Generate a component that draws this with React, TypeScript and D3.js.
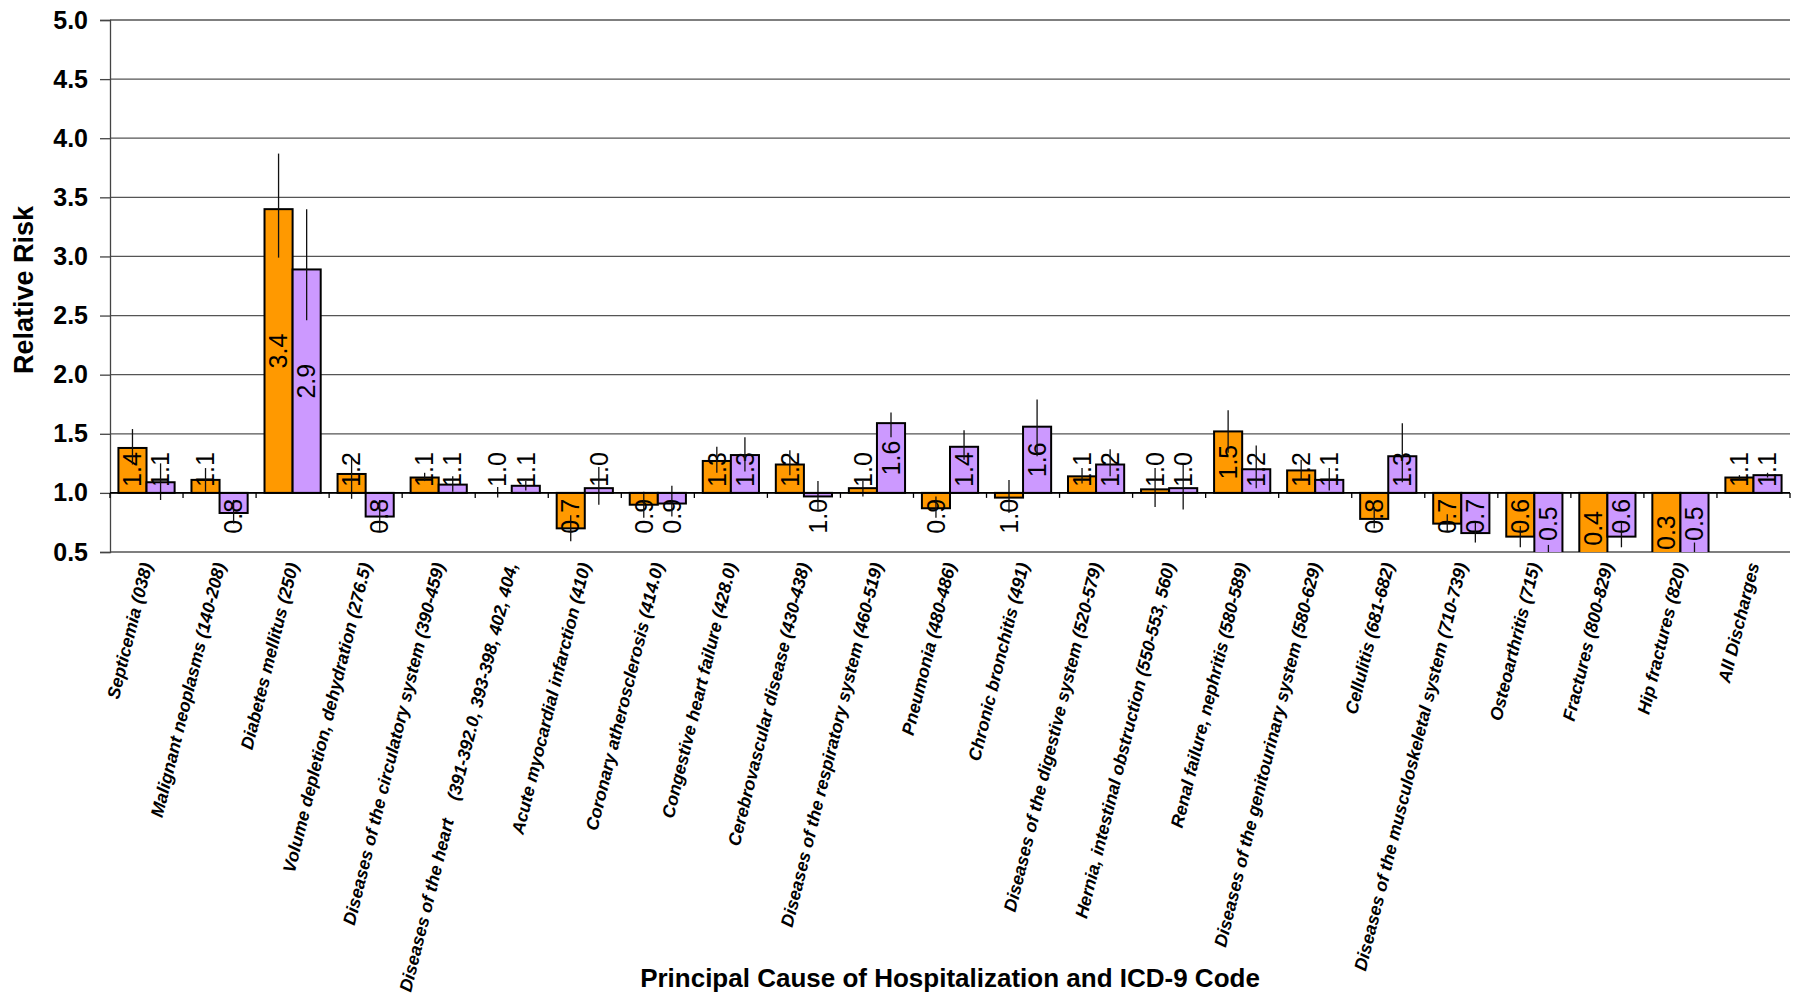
import React, { useEffect, useRef } from "react";
import * as d3 from "d3";

const categories = [
  "Septicemia (038)",
  "Malignant neoplasms (140-208)",
  "Diabetes mellitus (250)",
  "Volume depletion, dehydration (276.5)",
  "Diseases of the circulatory system (390-459)",
  "Diseases of the heart    (391-392.0, 393-398, 402, 404,",
  "Acute myocardial infarction (410)",
  "Coronary atherosclerosis (414.0)",
  "Congestive heart failure (428.0)",
  "Cerebrovascular disease (430-438)",
  "Diseases of the respiratory system (460-519)",
  "Pneumonia (480-486)",
  "Chronic bronchitis (491)",
  "Diseases of the digestive system (520-579)",
  "Hernia, intestinal obstruction (550-553, 560)",
  "Renal failure, nephritis (580-589)",
  "Diseases of the genitourinary system (580-629)",
  "Cellulitis (681-682)",
  "Diseases of the musculoskeletal system (710-739)",
  "Osteoarthritis (715)",
  "Fractures (800-829)",
  "Hip fractures (820)",
  "All Discharges",
];

// orange series
const orangeRR = [1.38, 1.11, 3.4, 1.16, 1.13, 1.0, 0.7, 0.9, 1.27, 1.24, 1.04, 0.87, 0.96, 1.14, 1.03, 1.52, 1.19, 0.78, 0.74, 0.63, 0.4, 0.3, 1.13];
const orangeLow = [1.24, 1.01, 2.99, 0.95, 1.1, 0.96, 0.59, 0.79, 1.17, 1.15, 0.97, 0.79, 0.83, 1.08, 0.88, 1.34, 1.11, 0.7, 0.67, 0.54, 0.3, 0.2, 1.11];
const orangeHigh = [1.54, 1.21, 3.87, 1.3, 1.17, 1.05, 0.81, 1.01, 1.39, 1.36, 1.1, 0.97, 1.11, 1.21, 1.21, 1.7, 1.28, 0.88, 0.82, 0.72, 0.49, 0.38, 1.15];

// purple series
const purpleRR = [1.09, 0.83, 2.89, 0.8, 1.07, 1.06, 1.04, 0.91, 1.32, 0.97, 1.59, 1.39, 1.56, 1.24, 1.04, 1.2, 1.11, 1.31, 0.66, 0.48, 0.63, 0.48, 1.15];
const purpleLow = [0.94, 0.74, 2.46, 0.68, 1.01, 1.02, 0.9, 0.8, 1.18, 0.86, 1.47, 1.28, 1.31, 1.14, 0.86, 1.04, 1.02, 1.09, 0.58, 0.4, 0.54, 0.4, 1.13];
const purpleHigh = [1.25, 0.94, 3.4, 0.94, 1.14, 1.1, 1.22, 1.06, 1.47, 1.1, 1.68, 1.53, 1.79, 1.37, 1.24, 1.4, 1.21, 1.59, 0.75, 0.56, 0.75, 0.58, 1.17];

const yTicks = [0.5, 1.0, 1.5, 2.0, 2.5, 3.0, 3.5, 4.0, 4.5, 5.0];

const seriesKeys = ["orange", "purple"];
const seriesColors: Record<string, string> = { orange: "#FF9900", purple: "#CC99FF" };

const FONT = "'Liberation Sans', Arial, sans-serif";

const App: React.FC = () => {
  const svgRef = useRef<SVGSVGElement | null>(null);

  useEffect(() => {
    if (!svgRef.current) return;
    const width = 1798;
    const height = 993;
    const margin = { top: 20, right: 8, bottom: 441, left: 110 };
    const plotW = width - margin.left - margin.right;
    const plotH = height - margin.top - margin.bottom;

    const svg = d3.select(svgRef.current);
    svg.selectAll("*").remove();

    const x0 = d3.scaleBand<string>().domain(categories).range([margin.left, margin.left + plotW]);
    const x1 = d3.scaleBand<string>().domain(seriesKeys).range([0, x0.bandwidth()]).paddingOuter(0.3);
    const y = d3.scaleLinear().domain([0.5, 5]).range([margin.top + plotH, margin.top]);
    const base = y(1);
    const bottom = y(0.5);

    svg.append("defs").append("clipPath").attr("id", "plot-clip")
      .append("rect")
      .attr("x", margin.left).attr("y", margin.top)
      .attr("width", plotW).attr("height", plotH);

    // gridlines
    svg.append("g").selectAll("line").data(yTicks).enter().append("line")
      .attr("x1", margin.left).attr("x2", margin.left + plotW)
      .attr("y1", d => y(d)).attr("y2", d => y(d))
      .attr("stroke", "#555").attr("stroke-width", 1.3);

    // y axis
    const yAxis = svg.append("g").attr("transform", `translate(${margin.left},0)`)
      .call(d3.axisLeft(y).tickValues(yTicks).tickSize(10).tickPadding(12).tickFormat(d3.format(".1f")));
    yAxis.select(".domain").attr("stroke", "#444").attr("stroke-width", 1.3);
    yAxis.selectAll(".tick line").attr("stroke", "#444").attr("stroke-width", 1.3);
    yAxis.selectAll("text")
      .style("font-family", FONT).style("font-size", "25px").style("font-weight", "bold").attr("fill", "#000");

    const rows = categories.map((c, i) => ({
      cat: c,
      bars: [
        { key: "orange", v: orangeRR[i], lo: orangeLow[i], hi: orangeHigh[i] },
        { key: "purple", v: purpleRR[i], lo: purpleLow[i], hi: purpleHigh[i] },
      ],
    }));

    const plot = svg.append("g").attr("clip-path", "url(#plot-clip)");
    const groups = plot.selectAll("g.cat").data(rows).enter().append("g")
      .attr("class", "cat")
      .attr("transform", d => `translate(${x0(d.cat)},0)`);

    groups.selectAll("rect").data(d => d.bars).enter().append("rect")
      .attr("x", d => x1(d.key) ?? 0)
      .attr("width", x1.bandwidth())
      .attr("y", d => Math.min(y(d.v), base))
      .attr("height", d => Math.abs(y(d.v) - base))
      .attr("fill", d => seriesColors[d.key])
      .attr("stroke", "#000").attr("stroke-width", 2);

    // data labels
    const labelSize = 25;
    const L = labelSize * 1.39;
    const pad = 6;
    groups.selectAll("text.val").data(d => d.bars).enter().append("text")
      .attr("class", "val")
      .attr("transform", d => {
        const cx = (x1(d.key) ?? 0) + x1.bandwidth() / 2;
        let c = (base + y(d.v)) / 2;
        if (d.v >= 1) {
          c = Math.min(c, base - pad - L / 2);
          c = Math.max(c, margin.top + pad + L / 2);
        } else {
          c = Math.max(c, base + pad + L / 2);
          c = Math.min(c, bottom - pad - L / 2 + 4);
        }
        return `translate(${cx},${c}) rotate(-90)`;
      })
      .attr("text-anchor", "middle")
      .attr("dy", "0.35em")
      .style("font-family", FONT).style("font-size", `${labelSize}px`)
      .attr("fill", "#000")
      .text(d => d3.format(".1f")(d.v));

    // error bars
    groups.selectAll("line.err").data(d => d.bars).enter().append("line")
      .attr("class", "err")
      .attr("x1", d => (x1(d.key) ?? 0) + x1.bandwidth() / 2)
      .attr("x2", d => (x1(d.key) ?? 0) + x1.bandwidth() / 2)
      .attr("y1", d => y(d.lo)).attr("y2", d => y(d.hi))
      .attr("stroke", "#111").attr("stroke-width", 1.3);

    // category axis at 1.0
    svg.append("line")
      .attr("x1", margin.left).attr("x2", margin.left + plotW)
      .attr("y1", base).attr("y2", base)
      .attr("stroke", "#000").attr("stroke-width", 1.6);
    const bounds = categories.map(c => x0(c) ?? 0).concat([margin.left + plotW]);
    svg.append("g").selectAll("line").data(bounds).enter().append("line")
      .attr("x1", d => d).attr("x2", d => d)
      .attr("y1", base).attr("y2", base + 5)
      .attr("stroke", "#000").attr("stroke-width", 1.3);

    // category labels
    svg.append("g").selectAll("text").data(categories).enter().append("text")
      .attr("transform", d => `translate(${(x0(d) ?? 0) + x0.bandwidth() / 2},563) rotate(-76)`)
      .attr("text-anchor", "end")
      .attr("dy", "0.35em")
      .style("font-family", FONT).style("font-size", "17.7px")
      .style("font-weight", "bold").style("font-style", "italic")
      .style("white-space", "pre")
      .attr("fill", "#000")
      .text(d => d);

    // axis titles
    svg.append("text")
      .attr("transform", `translate(33,${(margin.top + bottom) / 2 + 4}) rotate(-90)`)
      .attr("text-anchor", "middle")
      .style("font-family", FONT).style("font-size", "27px").style("font-weight", "bold")
      .attr("fill", "#000")
      .text("Relative Risk");

    svg.append("text")
      .attr("x", margin.left + plotW / 2).attr("y", 987)
      .attr("text-anchor", "middle")
      .style("font-family", FONT).style("font-size", "26px").style("font-weight", "bold")
      .attr("fill", "#000")
      .text("Principal Cause of Hospitalization and ICD-9 Code");
  }, []);

  return (
    <svg
      ref={svgRef}
      width={1798}
      height={993}
      style={{ position: "absolute", left: 0, top: 0, background: "#fff" }}
    />
  );
};

export default App;
